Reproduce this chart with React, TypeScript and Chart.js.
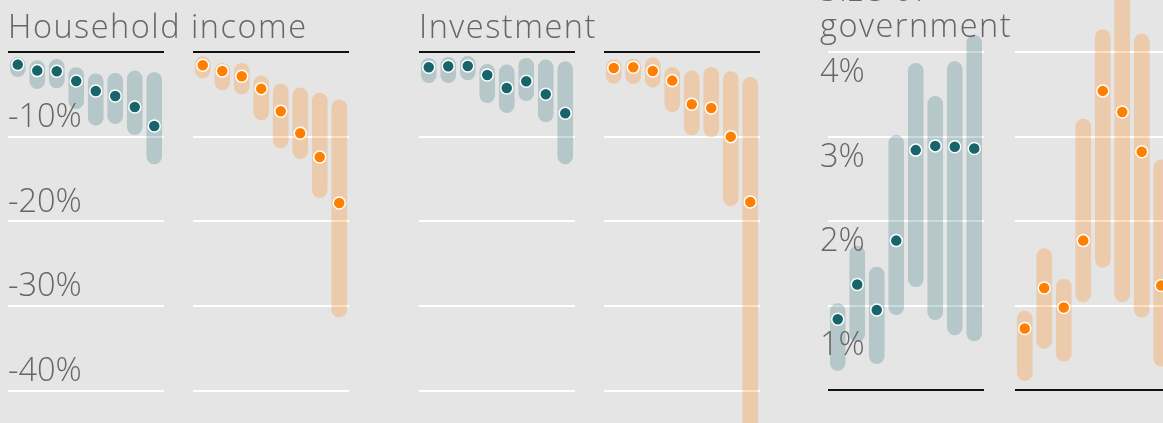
import React, { useEffect, useRef } from 'react';
import { Chart, registerables } from 'chart.js';

Chart.register(...registerables);

// ---------- data ----------
const categories = ['1', '2', '3', '4', '5', '6', '7', '8'];

const incomeTealLow = [-2.95, -4.37, -4.29, -6.73, -8.7, -8.5, -9.8, -13.27];
const incomeTealHigh = [-0.59, -0.98, -0.83, -1.81, -2.55, -2.48, -2.2, -2.4];
const incomeTealMid = [-1.49, -2.2, -2.28, -3.43, -4.61, -5.2, -6.5, -8.74];

const incomeOrangeLow = [-3.11, -4.53, -5.0, -8.07, -11.38, -12.64, -17.25, -31.37];
const incomeOrangeHigh = [-0.51, -1.3, -1.3, -2.79, -3.73, -4.2, -4.8, -5.62];
const incomeOrangeMid = [-1.57, -2.24, -2.87, -4.33, -7.0, -9.6, -12.4, -17.84];

const investTealLow = [-3.66, -3.66, -3.34, -6.03, -7.2, -5.79, -8.31, -13.27];
const investTealHigh = [-0.71, -0.59, -0.47, -1.42, -1.49, -0.71, -0.9, -1.13];
const investTealMid = [-1.81, -1.69, -1.65, -2.72, -4.25, -3.46, -5.0, -7.24];

const investOrangeLow = [-3.73, -3.78, -4.21, -7.09, -9.84, -10.08, -18.2, -50];
const investOrangeHigh = [-0.86, -0.78, -0.66, -1.77, -2.2, -1.77, -2.28, -2.95];
const investOrangeMid = [-1.89, -1.81, -2.24, -3.38, -6.18, -6.62, -10.0, -17.72];

const govTealLow = [0.23, 0.57, 0.31, 0.89, 1.22, 0.83, 0.65, 0.58];
const govTealHigh = [1.03, 1.71, 1.46, 3.02, 3.87, 3.48, 3.89, 4.2];
const govTealMid = [0.84, 1.25, 0.95, 1.77, 2.84, 2.89, 2.88, 2.86];

const govOrangeLow = [0.11, 0.49, 0.34, 1.04, 1.45, 1.04, 0.86, 0.28];
const govOrangeHigh = [0.94, 1.68, 1.32, 3.21, 4.27, 5.2, 4.22, 2.73];
const govOrangeMid = [0.73, 1.21, 0.98, 1.77, 3.54, 3.29, 2.82, 1.24];

const lossTicks = { min: -43.83, max: 0, step: 10 };
const govTicks = { min: 0, max: 4, step: 1 };

// ---------- styles ----------
const BG = '#e5e5e5';
const TEXT = '#666666';
const FONT = "'Open Sans', sans-serif";
const FONT_SIZE = 32.5;
const TEAL = '#17646b';
const TEAL_BAR = 'rgba(23,100,107,0.23)';
const ORANGE = '#ff8000';
const ORANGE_BAR = 'rgba(255,128,0,0.25)';
const W = 1200;

type Spec = {
  low: number[];
  high: number[];
  mid: number[];
  dot: string;
  bar: string;
  range: { min: number; max: number; step: number };
  left: number;
  right: number;
  canvasTop: number;
  canvasHeight: number;
  padTop: number;
  padBottom: number;
  axisWidth: number;
  labels: boolean;
  labelPadding: number;
  labelOffset: number;
  title?: string | string[];
  titlePad?: { top: number; bottom: number };
  titleLineHeight?: number;
  gov?: boolean;
};

const panels: Spec[] = [
  {
    low: incomeTealLow, high: incomeTealHigh, mid: incomeTealMid, dot: TEAL, bar: TEAL_BAR,
    range: lossTicks, left: 8, right: 164, canvasTop: 0, canvasHeight: 423, padTop: 0, padBottom: 0,
    axisWidth: 0, labels: true, labelPadding: 0, labelOffset: -19,
    title: 'Household income', titlePad: { top: 8.9, bottom: 4.1 }, titleLineHeight: 1.2,
  },
  {
    low: incomeOrangeLow, high: incomeOrangeHigh, mid: incomeOrangeMid, dot: ORANGE, bar: ORANGE_BAR,
    range: lossTicks, left: 193, right: 349, canvasTop: 0, canvasHeight: 423, padTop: 52, padBottom: 0,
    axisWidth: 0, labels: false, labelPadding: 0, labelOffset: 0,
  },
  {
    low: investTealLow, high: investTealHigh, mid: investTealMid, dot: TEAL, bar: TEAL_BAR,
    range: lossTicks, left: 419, right: 575, canvasTop: 0, canvasHeight: 423, padTop: 0, padBottom: 0,
    axisWidth: 0, labels: false, labelPadding: 0, labelOffset: 0,
    title: 'Investment', titlePad: { top: 8.9, bottom: 4.1 }, titleLineHeight: 1.2,
  },
  {
    low: investOrangeLow, high: investOrangeHigh, mid: investOrangeMid, dot: ORANGE, bar: ORANGE_BAR,
    range: lossTicks, left: 604, right: 760, canvasTop: 0, canvasHeight: 423, padTop: 52, padBottom: 0,
    axisWidth: 0, labels: false, labelPadding: 0, labelOffset: 0,
  },
  {
    low: govTealLow, high: govTealHigh, mid: govTealMid, dot: TEAL, bar: TEAL_BAR,
    range: govTicks, left: 820, right: 984, canvasTop: -40, canvasHeight: 463, padTop: 0, padBottom: 32.7,
    axisWidth: 8, labels: true, labelPadding: -8, labelOffset: 21,
    title: ['Size of', 'government'], titlePad: { top: 13.04, bottom: 5.51 }, titleLineHeight: 1.13, gov: true,
  },
  {
    low: govOrangeLow, high: govOrangeHigh, mid: govOrangeMid, dot: ORANGE, bar: ORANGE_BAR,
    range: govTicks, left: 1015, right: 1171, canvasTop: -40, canvasHeight: 463, padTop: 92, padBottom: 32.7,
    axisWidth: 0, labels: false, labelPadding: 0, labelOffset: 0, gov: true,
  },
];

// widen the title lettering a little (tick labels are drawn later with normal spacing)
const titleSpacing = {
  id: 'titleSpacing',
  beforeDraw(chart: any) {
    chart.ctx.letterSpacing = '1.5px';
  },
  beforeDatasetsDraw(chart: any) {
    chart.ctx.letterSpacing = '0px';
  },
};

function Panel({ spec }: { spec: Spec }) {
  const ref = useRef<HTMLCanvasElement>(null);
  useEffect(() => {
    const font = { family: FONT, size: FONT_SIZE, weight: 300 as any, lineHeight: 1.2 };
    const chart = new Chart(ref.current as HTMLCanvasElement, {
      type: 'bar',
      data: {
        labels: categories,
        datasets: [
          {
            type: 'line',
            data: spec.mid,
            showLine: false,
            pointRadius: 6,
            pointHoverRadius: 6,
            pointBackgroundColor: spec.dot,
            pointBorderColor: '#ffffff',
            pointBorderWidth: 1.5,
            order: 0,
            clip: false as any,
          } as any,
          {
            type: 'bar',
            data: spec.low.map((l, i) => [l, spec.high[i]]),
            backgroundColor: spec.bar,
            borderRadius: 20,
            borderSkipped: false,
            borderWidth: 0,
            barPercentage: 0.8,
            categoryPercentage: 1,
            order: 1,
            clip: false as any,
          } as any,
        ],
      },
      plugins: [titleSpacing],
      options: {
        responsive: false,
        animation: false,
        devicePixelRatio: 1,
        events: [],
        layout: {
          autoPadding: false,
          padding: {
            left: spec.left,
            right: 0,
            top: spec.padTop,
            bottom: spec.padBottom,
          },
        },
        plugins: {
          legend: { display: false },
          tooltip: { enabled: false },
          title: spec.title
            ? {
                display: true,
                text: spec.title,
                align: 'start',
                color: TEXT,
                font: { ...font, lineHeight: spec.titleLineHeight },
                padding: spec.titlePad,
              }
            : { display: false },
        },
        scales: {
          x: { type: 'category', display: false },
          y: {
            type: 'linear',
            position: 'left',
            min: spec.range.min,
            max: spec.range.max,
            afterFit: (s: any) => {
              s.width = spec.axisWidth;
              s.paddingTop = 0;
              s.paddingBottom = 0;
            },
            border: { display: false },
            grid: {
              drawTicks: false,
              lineWidth: 2,
              color: (ctx: any) => (ctx.tick && ctx.tick.value === 0 ? '#111111' : '#ffffff'),
            },
            ticks: {
              display: spec.labels,
              z: 1,
              mirror: true,
              padding: spec.labelPadding,
              labelOffset: spec.labelOffset,
              stepSize: spec.range.step,
              includeBounds: false,
              color: TEXT,
              font,
              callback: (v: any) => {
                const n = Number(v);
                if (n === 0) return '';
                if (spec.gov && n === 1) return ['', '1%'];
                return `${n}%`;
              },
            },
          } as any,
          // empty spacer on the right so the panel title is not squeezed
          spacer: {
            type: 'linear',
            position: 'right',
            display: true,
            grid: { display: false, drawTicks: false },
            border: { display: false },
            ticks: { display: false },
            afterFit: (s: any) => {
              s.width = W - spec.right;
              s.paddingTop = 0;
              s.paddingBottom = 0;
            },
          } as any,
        },
      } as any,
    });
    return () => chart.destroy();
  }, [spec]);
  return (
    <canvas
      ref={ref}
      width={W}
      height={spec.canvasHeight}
      style={{ position: 'absolute', left: 0, top: spec.canvasTop, width: W, height: spec.canvasHeight, display: 'block' }}
    />
  );
}

export default function App() {
  return (
    <div
      style={{
        position: 'fixed',
        left: 0,
        top: 0,
        width: 1163,
        height: 423,
        overflow: 'hidden',
        background: BG,
      }}
    >
      {panels.map((p, i) => (
        <Panel key={i} spec={p} />
      ))}
    </div>
  );
}
